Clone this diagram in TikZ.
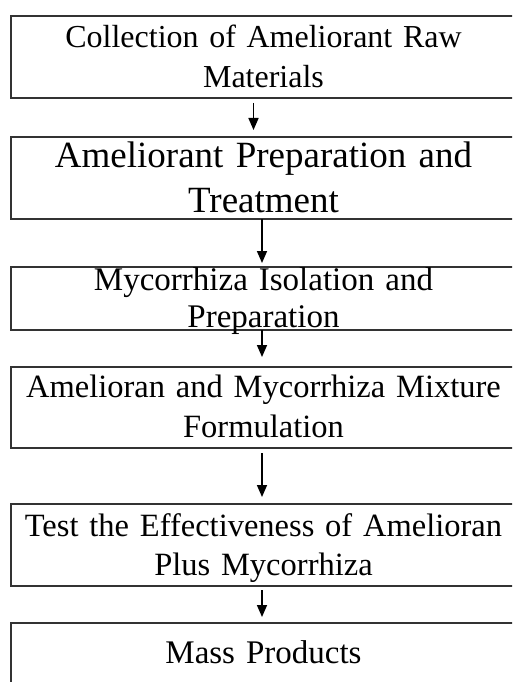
\documentclass[tikz,border=0pt]{standalone}
\usepackage{fontspec}
\setmainfont{Liberation Serif}
\usetikzlibrary{positioning, arrows.meta}
\tikzset{box node/.style={draw=black!80, line width=2pt, text width=505pt, align=center, inner sep=0pt, outer sep=0pt},}

\begin{document}
\begin{tikzpicture}[x=1pt, y=-1pt, -{Triangle[width=10pt,length=12pt]}, line width=1.6pt]
				\clip (0,0) rectangle (512,682);
				% Boxes
				\node[box node, anchor=north west, text height=32pt, text depth=50pt, font=\fontsize{32}{40}\selectfont] (b1) at (11,16) {Collection of Ameliorant Raw\\ Materials};
				\node[box node, below=39pt of b1, text height=30pt, text depth=52pt, font=\fontsize{37}{45}\selectfont] (b2) {Ameliorant Preparation and\\ Treatment};
				\node[box node, below=48pt of b2, text height=23pt, text depth=40pt, font=\fontsize{33}{37}\selectfont] (b3) {Mycorrhiza Isolation and\\ Preparation};
				\node[box node, below=37pt of b3, text height=30pt, text depth=51pt, font=\fontsize{32.5}{40}\selectfont] (b4) {Amelioran and Mycorrhiza Mixture\\ Formulation};
				\node[box node, below=56pt of b4, text height=32pt, text depth=50pt, font=\fontsize{32.5}{39}\selectfont] (b5) {Test the Effectiveness of Amelioran\\ Plus Mycorrhiza};
				\node[box node, below=37pt of b5, text height=40pt, text depth=60pt, font=\fontsize{33}{39}\selectfont] (b6) {Mass Products};
				% Arrows
				\path
				([xshift=-10pt, yshift=-5pt]b1.south) edge ([xshift=-10pt, yshift=7pt]b2.north)
				([xshift=-1.5pt]b2.south) edge ([xshift=-1.5pt, yshift=4pt]b3.north)
				([xshift=-1.5pt]b3.south) edge ([xshift=-1.5pt, yshift=10pt]b4.north)
				([xshift=-1.5pt, yshift=-5pt]b4.south) edge ([xshift=-1.5pt, yshift=7pt]b5.north)
				([xshift=-1.5pt, yshift=-4pt]b5.south) edge ([xshift=-1.5pt, yshift=6pt]b6.north);
			\end{tikzpicture}
\end{document}
